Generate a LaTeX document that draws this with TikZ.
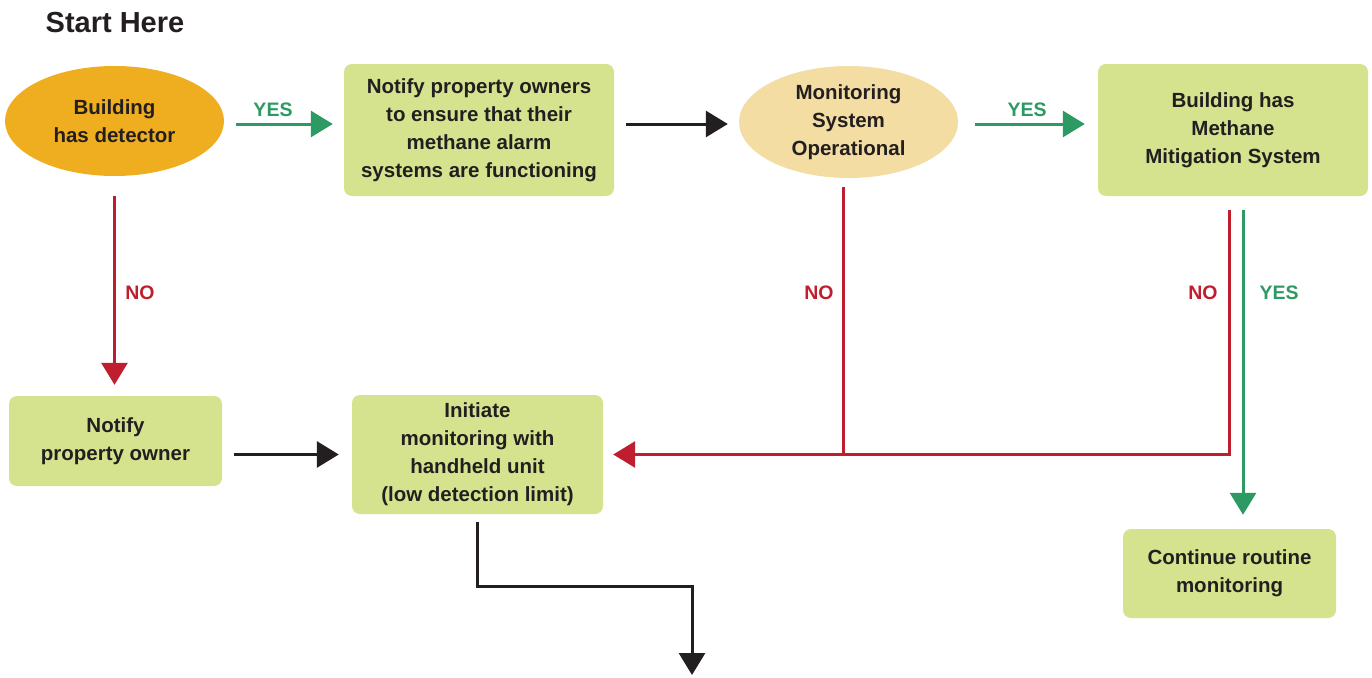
\documentclass[tikz,border=0pt]{standalone}
\usepackage{fontspec}
\setmainfont{Liberation Sans}
\usepackage{xcolor}
\usepackage{tikz}
\usetikzlibrary{positioning,arrows.meta,shapes.geometric,calc}
\definecolor{leaf}{HTML}{D5E38F}
\definecolor{amberfill}{HTML}{EFAE1F}
\definecolor{sand}{HTML}{F3DDA3}
\definecolor{nored}{HTML}{BE1E2D}
\definecolor{yesgreen}{HTML}{2E9A63}
\definecolor{ink}{HTML}{231F20}

\begin{document}
\begin{tikzpicture}[
  x=1pt,y=-1pt,
  font=\fontsize{20.5}{28}\selectfont\bfseries,
  text=ink,
  bx/.style={fill=leaf,rounded corners=8pt,inner sep=0pt,align=center},
  ov/.style={ellipse,inner sep=0pt,minimum width=219pt,align=center},
  lbl/.style={font=\fontsize{19.5}{22}\selectfont\bfseries},
  a/.style={-{Triangle[length=22pt,width=26pt]},line width=3pt,ink},
  yes/.style={a,yesgreen},
  no/.style={a,nored}
]
\useasboundingbox (0,0) rectangle (1372,677);
\node[font=\fontsize{29}{32}\selectfont\bfseries] (start) at (115,23) {Start Here};

% top row
\node[ov,fill=amberfill,minimum height=110pt] (det) at (114.5,121) {Building\\has detector};
\node[bx,minimum width=270pt,minimum height=132pt] (own) at (479,130)
  {Notify property owners\\to ensure that their\\methane alarm\\systems are functioning};
\node[ov,fill=sand,minimum height=112pt] (mon) at (848.5,122) {Monitoring\\System\\Operational};
\node[bx,minimum width=270pt,minimum height=132pt] (mit) at (1233,130)
  {Building has\\Methane\\Mitigation System};

% lower row
\node[bx,minimum width=213pt,minimum height=90pt] (np) at (115.5,441) {Notify\\property owner};
\node[bx,minimum width=251pt,minimum height=119pt] (init) at (477.5,454.5)
  {Initiate\\monitoring with\\handheld unit\\(low detection limit)};
\node[bx,minimum width=213pt,minimum height=89pt] (cont) at (1229.5,573.5)
  {Continue routine\\monitoring};
\coordinate (nxt) at (692,675);

% connectors
\draw[yes,shorten <=12pt,shorten >=11pt] ([yshift=-3pt]det.east) -- ([yshift=-3pt]det.east -| own.west);
\draw[a,shorten <=12pt,shorten >=11pt] ([yshift=-2pt]mon.west -| own.east) -- ([yshift=-2pt]mon.west);
\draw[yes,shorten <=17pt,shorten >=13pt] ([yshift=-2pt]mon.east) -- ([yshift=-2pt]mon.east -| mit.west);
\draw[no,shorten <=20pt,shorten >=11pt] (det.south) -- (det.south |- np.north);
\draw[a,shorten <=12pt,shorten >=13pt] (np.east |- init.west) -- (init.west);
\draw[nored,line width=3pt,shorten <=9pt] ([xshift=-5.5pt]mon.south) -- ([xshift=-5.5pt]mon.south |- init.east);
\draw[no,shorten <=14pt,shorten >=10pt] ([xshift=-4pt]mit.south) -- ([xshift=-4pt]mit.south |- init.east) -- (init.east);
\draw[yes,shorten <=14pt,shorten >=14pt] ([xshift=10pt]mit.south) -- ([xshift=10pt]mit.south |- cont.north);
\draw[a,shorten <=8pt] (init.south) -- ++(0,72) -| (nxt);

% labels
\node[lbl,yesgreen] (y1) at (273,110) {YES};
\node[lbl,yesgreen] (y2) at (1027,110) {YES};
\node[lbl,nored] (n1) at (140,293) {NO};
\node[lbl,nored] (n2) at (819,293) {NO};
\node[lbl,nored] (n3) at (1203,293) {NO};
\node[lbl,yesgreen] (y3) at (1279,293) {YES};
\end{tikzpicture}
\end{document}
